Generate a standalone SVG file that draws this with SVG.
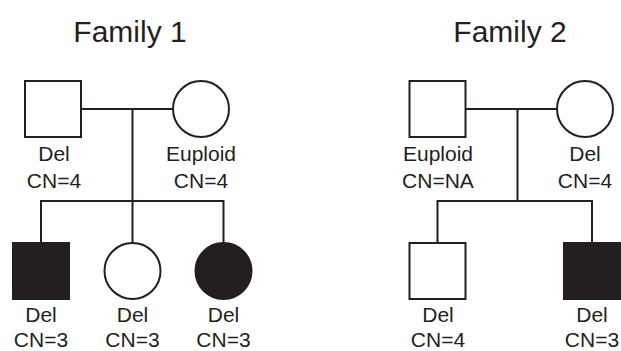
<svg xmlns="http://www.w3.org/2000/svg" width="621" height="351" viewBox="0 0 621 351">
<style>
.s{fill:#fff;stroke:#231f20;stroke-width:2}
.f{fill:#231f20;stroke:#231f20;stroke-width:2}
.l{fill:none;stroke:#231f20;stroke-width:2}
text{font-family:"Liberation Sans",Arial,sans-serif;fill:#231f20;text-anchor:middle}
.t{font-size:30px}
.lb{font-size:21px}
</style>
<rect width="621" height="351" fill="#fff"/>
<g id="connectors">
<path class="l" d="M81 109H173M132.5 109V201M41 243V201H223.5V243M132.5 201V243"/>
<path class="l" d="M466 109H557M517.5 109V201M437.5 243V201H592V243"/>
</g>
<g id="title1"><text class="t" x="130" y="42">Family 1</text></g>
<g id="title2"><text class="t" x="510" y="42">Family 2</text></g>
<g id="f1-father"><rect class="s" x="25" y="81" width="56" height="56"/><text class="lb" x="54" y="161">Del</text><text class="lb" x="54" y="188">CN=4</text></g>
<g id="f1-mother"><circle class="s" cx="201" cy="109" r="28"/><text class="lb" x="201" y="161">Euploid</text><text class="lb" x="201" y="188">CN=4</text></g>
<g id="f1-son"><rect class="f" x="13" y="243" width="56" height="56"/><text class="lb" x="41" y="322">Del</text><text class="lb" x="41" y="347">CN=3</text></g>
<g id="f1-daughter1"><circle class="s" cx="132.5" cy="271" r="28"/><text class="lb" x="132.5" y="322">Del</text><text class="lb" x="132.5" y="347">CN=3</text></g>
<g id="f1-daughter2"><circle class="f" cx="223.5" cy="271" r="28"/><text class="lb" x="223.5" y="322">Del</text><text class="lb" x="223.5" y="347">CN=3</text></g>
<g id="f2-father"><rect class="s" x="409.5" y="81" width="56" height="56"/><text class="lb" x="438" y="161">Euploid</text><text class="lb" x="438" y="188">CN=NA</text></g>
<g id="f2-mother"><circle class="s" cx="585" cy="109" r="28"/><text class="lb" x="585" y="161">Del</text><text class="lb" x="585" y="188">CN=4</text></g>
<g id="f2-son1"><rect class="s" x="409.5" y="243" width="56" height="56"/><text class="lb" x="438" y="322">Del</text><text class="lb" x="438" y="347">CN=4</text></g>
<g id="f2-son2"><rect class="f" x="564" y="243" width="56" height="56"/><text class="lb" x="592" y="322">Del</text><text class="lb" x="592" y="347">CN=3</text></g>
</svg>
